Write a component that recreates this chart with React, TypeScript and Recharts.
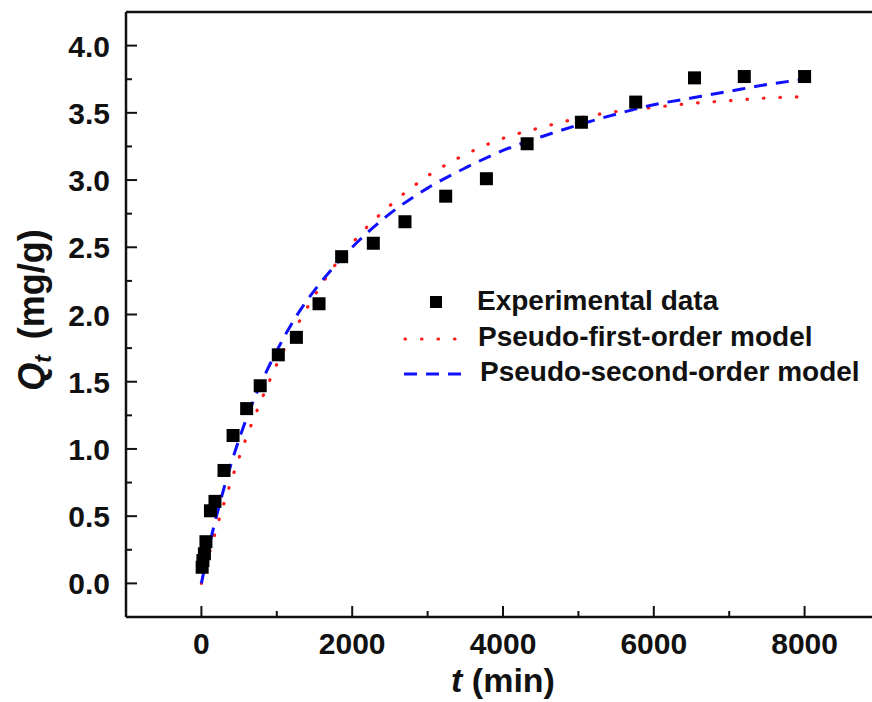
import React from "react";
import {
  ComposedChart,
  Line,
  Scatter,
  XAxis,
  YAxis,
  ReferenceLine,
} from "recharts";

// experimental points (t in min, Qt in mg/g)
const expTimes = [10, 20, 40, 60, 120, 180, 300, 420, 600, 780, 1020, 1260, 1560, 1860, 2280, 2700, 3240, 3780, 4320, 5040, 5760, 6540, 7200, 8000];
const expQ = [0.12, 0.17, 0.22, 0.31, 0.54, 0.61, 0.84, 1.1, 1.3, 1.47, 1.7, 1.83, 2.08, 2.43, 2.53, 2.69, 2.88, 3.01, 3.27, 3.43, 3.58, 3.76, 3.77, 3.77];

// fitted model curves
const modelTimes = [0, 100, 200, 400, 600, 800, 1000, 1250, 1500, 1750, 2000, 2500, 3000, 3500, 4000, 4500, 5000, 5500, 6000, 6500, 7000, 7500, 8000];
const pfoQ = [0, 0.21, 0.41, 0.77, 1.09, 1.37, 1.63, 1.9, 2.14, 2.35, 2.53, 2.81, 3.03, 3.19, 3.31, 3.39, 3.46, 3.51, 3.54, 3.57, 3.59, 3.61, 3.62];
const psoQ = [0, 0.27, 0.5, 0.9, 1.23, 1.5, 1.73, 1.98, 2.18, 2.35, 2.5, 2.75, 2.94, 3.09, 3.22, 3.32, 3.41, 3.49, 3.56, 3.61, 3.66, 3.71, 3.75];

const xMajorTicks = [0, 2000, 4000, 6000, 8000];
const xMinorTicks = [1000, 3000, 5000, 7000];
const yMajorTicks = ["0.0", "0.5", "1.0", "1.5", "2.0", "2.5", "3.0", "3.5", "4.0"];
const yMinorTicks = [0.25, 0.75, 1.25, 1.75, 2.25, 2.75, 3.25, 3.75];

const expData = expTimes.map((t, i) => ({ t, q: expQ[i] }));
const pfoData = modelTimes.map((t, i) => ({ t, q: pfoQ[i] }));
const psoData = modelTimes.map((t, i) => ({ t, q: psoQ[i] }));

const FONT = "'Liberation Sans', Arial, sans-serif";
const INK = "#111";
const RED = "#ff1a1a";
const BLUE = "#1010ff";

const xTickValues = [...xMajorTicks, ...xMinorTicks].sort((a, b) => a - b);
const yTickValues = [...yMajorTicks.map(Number), ...yMinorTicks].sort((a, b) => a - b);

function XTick(props: any) {
  const { x, y, payload } = props;
  const major = xMajorTicks.includes(payload.value);
  return (
    <g>
      <line x1={x} x2={x} y1={y} y2={y - (major ? 11 : 6)} stroke={INK} strokeWidth={2} />
      {major && (
        <text x={x} y={y + 37} textAnchor="middle" fontFamily={FONT} fontWeight="bold" fontSize={30} fill={INK}>
          {payload.value}
        </text>
      )}
    </g>
  );
}

function YTick(props: any) {
  const { x, y, payload } = props;
  const label = yMajorTicks.find((s) => Number(s) === payload.value);
  return (
    <g>
      <line x1={x} x2={x + (label ? 11 : 6)} y1={y} y2={y} stroke={INK} strokeWidth={2} />
      {label && (
        <text x={x - 16} y={y + 11} textAnchor="end" fontFamily={FONT} fontWeight="bold" fontSize={30} fill={INK}>
          {label}
        </text>
      )}
    </g>
  );
}

function SquareDot(props: any) {
  const { cx, cy } = props;
  return <rect x={cx - 6.5} y={cy - 6.5} width={13} height={13} fill="#000" />;
}

function LegendBox() {
  const txt = { fontFamily: FONT, fontWeight: "bold" as const, fontSize: 28, fill: INK };
  return (
    <svg width={472} height={110} style={{ position: "absolute", left: 400, top: 286 }}>
      <rect x={30} y={10} width={12} height={12} fill="#000" />
      <text x={77} y={24} {...txt}>Experimental data</text>
      <line x1={5} x2={60} y1={53} y2={53} stroke={RED} strokeWidth={3.2} strokeDasharray="0.5 16" strokeLinecap="round" />
      <text x={78} y={60} {...txt}>Pseudo-first-order model</text>
      <line x1={4} x2={68} y1={88} y2={88} stroke={BLUE} strokeWidth={3} strokeDasharray="13 9" />
      <text x={80} y={95} {...txt}>Pseudo-second-order model</text>
    </svg>
  );
}

export default function App() {
  return (
    <div style={{ position: "absolute", left: 0, top: 0, width: 872, height: 702, overflow: "hidden", background: "#fff" }}>
      <ComposedChart width={900} height={702} margin={{ top: 12, right: 20, bottom: 15, left: 16 }}>
        <XAxis
          dataKey="t"
          type="number"
          domain={[-1000, 9000]}
          ticks={xTickValues}
          interval={0}
          tick={<XTick />}
          tickLine={false}
          tickSize={0}
          tickMargin={0}
          height={70}
          axisLine={{ stroke: INK, strokeWidth: 2.5 }}
          allowDataOverflow
          label={{
            content: (p: any) => {
              const vb = p.viewBox;
              return (
                <text x={vb.x + vb.width / 2} y={vb.y + 75} textAnchor="middle" fontFamily={FONT} fontWeight="bold" fontSize={34} fill={INK}>
                  <tspan fontStyle="italic">t</tspan>
                  <tspan> (min)</tspan>
                </text>
              );
            },
          }}
        />
        <YAxis
          type="number"
          domain={[-0.25, 4.25]}
          ticks={yTickValues}
          interval={0}
          tick={<YTick />}
          tickLine={false}
          tickSize={0}
          tickMargin={0}
          width={110}
          axisLine={{ stroke: INK, strokeWidth: 2.5 }}
          allowDataOverflow
          label={{
            content: () => (
              <text x={44} y={310} transform="rotate(-90, 44, 310)" textAnchor="middle" fontFamily={FONT} fontWeight="bold" fontSize={36} fill={INK}>
                <tspan fontStyle="italic">Q</tspan>
                <tspan fontStyle="italic" fontSize={23} dy={7}>t</tspan>
                <tspan dy={-7} dx={16}>(mg/g)</tspan>
              </text>
            ),
          }}
        />
        <ReferenceLine y={4.25} stroke={INK} strokeWidth={2.5} ifOverflow="visible" />
        <Line
          data={pfoData}
          dataKey="q"
          type="monotone"
          stroke={RED}
          strokeWidth={3.2}
          strokeDasharray="0.5 16"
          strokeLinecap="round"
          dot={false}
          activeDot={false}
          isAnimationActive={false}
        />
        <Line
          data={psoData}
          dataKey="q"
          type="monotone"
          stroke={BLUE}
          strokeWidth={3}
          strokeDasharray="13 9"
          dot={false}
          activeDot={false}
          isAnimationActive={false}
        />
        <Scatter data={expData} dataKey="q" shape={<SquareDot />} isAnimationActive={false} />
      </ComposedChart>
      <LegendBox />
    </div>
  );
}
